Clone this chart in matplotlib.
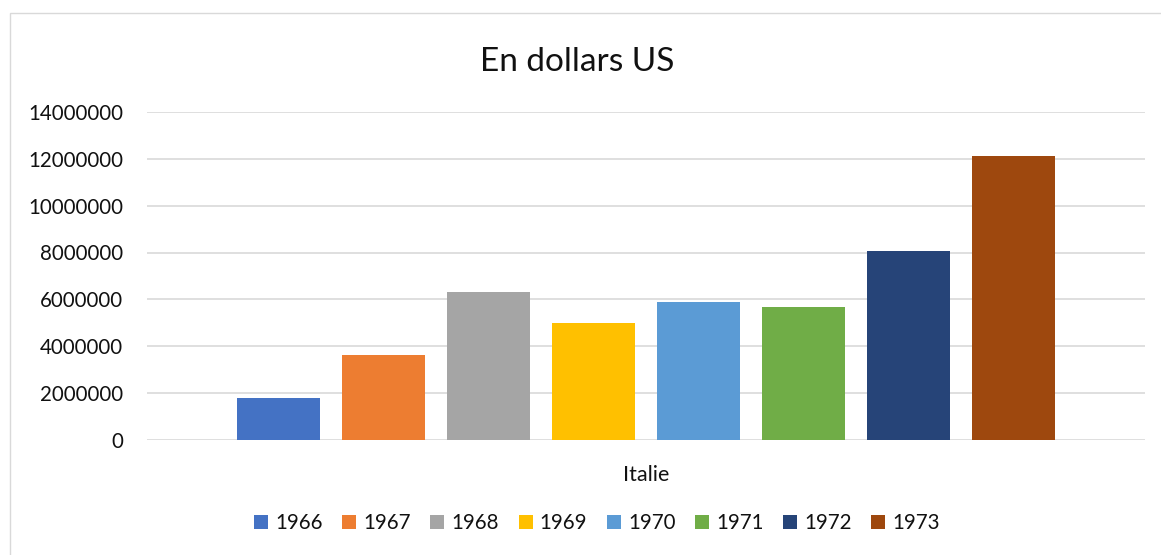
import matplotlib
matplotlib.use("Agg")
import matplotlib.pyplot as plt
from matplotlib.patches import Rectangle
import numpy as np

plt.rcParams['font.family'] = ['Lato', 'DejaVu Sans']

categories = ["Italie"]
years = ["1966", "1967", "1968", "1969", "1970", "1971", "1972", "1973"]
values = [1780000, 3620000, 6310000, 4990000, 5880000, 5670000, 8060000, 12120000]
colors = ["#4472C4", "#ED7D31", "#A5A5A5", "#FFC000", "#5B9BD5", "#70AD47", "#264478", "#9E480E"]
yticks = [0, 2000000, 4000000, 6000000, 8000000, 10000000, 12000000, 14000000]

W, H = 1161, 555
fig = plt.figure(figsize=(W / 100, H / 100), dpi=100)
fig.patches.append(Rectangle((10 / W, -0.01), 1.0, 1 - 13.5 / H + 0.01, transform=fig.transFigure,
                             fill=False, edgecolor="#d9d9d9", linewidth=1.0))

ax = fig.add_axes([147 / W, 1 - 439.7 / H, (1145 - 147) / W, (439.7 - 112.1) / H])

step = 105 / 998
width = 83 / 998
x0 = np.arange(len(categories))
for i, (yr, v, c) in enumerate(zip(years, values, colors)):
    ax.bar(x0 + (i - 3.5) * step, [v], width=width, color=c, label=yr, zorder=3)

ax.set_xlim(-0.5, 0.5)
ax.set_ylim(0, 14000000)
ax.set_yticks(yticks)
ax.set_yticklabels([str(t) for t in yticks], fontsize=14.8, color="#111111")
ax.set_xticks(x0)
ax.set_xticklabels(categories, fontsize=15.5, color="#111111")
ax.tick_params(axis='y', length=0, pad=17)
ax.tick_params(axis='x', length=0, pad=18)
ax.grid(axis='y', color="#d9d9d9", linewidth=1.2, zorder=0)
for s in ax.spines.values():
    s.set_visible(False)

fig.text(577 / W, 1 - 62 / H, "En dollars US", ha="center", va="center", fontsize=24, color="#111111")

leg = fig.legend(loc="center", bbox_to_anchor=(597 / W, 1 - 523 / H), ncol=8, frameon=False,
                 fontsize=14.8, handlelength=0.68, handleheight=0.68, handletextpad=0.35,
                 columnspacing=0.95)
for t in leg.get_texts():
    t.set_color("#111111")

fig.savefig("out.png", dpi=100, facecolor="white")
